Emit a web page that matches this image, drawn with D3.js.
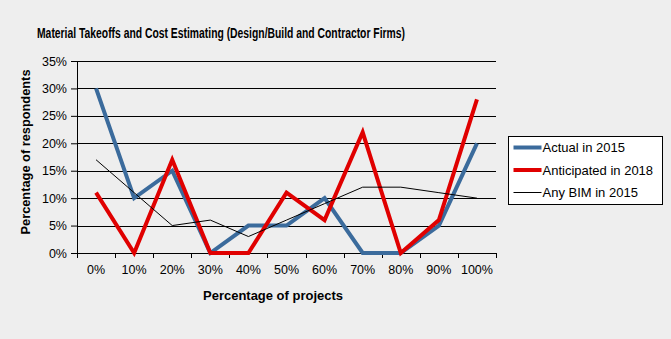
<!DOCTYPE html>
<html>
<head>
<meta charset="utf-8">
<script src="https://cdn.jsdelivr.net/npm/d3@7"></script>
<style>
  body { margin: 0; background: #eeeeee; }
  text { font-family: "Liberation Sans", Arial, sans-serif; fill: #000; }
</style>
</head>
<body>
<div id="chart"></div>
<script>
// categories on the x axis
var categories = ["0%", "10%", "20%", "30%", "40%", "50%", "60%", "70%", "80%", "90%", "100%"];

// series values (percent of respondents)
var actual2015 = [30, 10, 15, 0, 5, 5, 10, 0, 0, 5, 20];
var anticipated2018 = [11, 0, 17, 0, 0, 11, 6, 22, 0, 6, 28];
var anyBim2015 = [17, 11, 5, 6, 3, 6, 9, 12, 12, 11, 10];

var yTicks = [0, 5, 10, 15, 20, 25, 30, 35];

var series = [
  { name: "Actual in 2015", values: actual2015, color: "#3b6b9c", width: 4 },
  { name: "Anticipated in 2018", values: anticipated2018, color: "#e00000", width: 4 },
  { name: "Any BIM in 2015", values: anyBim2015, color: "#000000", width: 1 }
];

var svgWidth = 671, svgHeight = 339;
var margin = { top: 61, left: 77, right: 175, bottom: 86 };
var chartWidth = 496 - margin.left;
var chartHeight = 253 - margin.top;

var svg = d3.select("#chart")
  .append("svg")
  .attr("width", svgWidth)
  .attr("height", svgHeight);

svg.append("rect")
  .attr("width", svgWidth)
  .attr("height", svgHeight)
  .attr("fill", "#eeeeee");

// title
svg.append("text")
  .attr("x", 37)
  .attr("y", 38)
  .attr("font-size", 14.5)
  .attr("font-weight", "bold")
  .attr("textLength", 368)
  .attr("lengthAdjust", "spacingAndGlyphs")
  .text("Material Takeoffs  and Cost Estimating (Design/Build  and Contractor  Firms)");

var chartGroup = svg.append("g")
  .attr("transform", `translate(${margin.left}, ${margin.top})`);

var xScale = d3.scaleBand()
  .domain(categories)
  .range([0, chartWidth]);

var yScale = d3.scaleLinear()
  .domain([0, 35])
  .range([chartHeight, 0]);

// gridlines
chartGroup.selectAll(".grid")
  .data(yTicks.slice(1))
  .enter()
  .append("line")
  .attr("x1", 0)
  .attr("x2", chartWidth)
  .attr("y1", d => Math.round(yScale(d)) + 0.5)
  .attr("y2", d => Math.round(yScale(d)) + 0.5)
  .attr("stroke", "#000")
  .attr("stroke-width", 1);

// y axis
var yAxis = d3.axisLeft(yScale)
  .tickValues(yTicks)
  .tickFormat(d => d + "%")
  .tickSize(6)
  .tickSizeOuter(0)
  .tickPadding(4);

var yAxisG = chartGroup.append("g")
  .call(yAxis);
yAxisG.selectAll("text").attr("font-size", 12.5).style("font-family", "'Liberation Sans', Arial, sans-serif");
yAxisG.selectAll("line, path").attr("stroke", "#000");

// x axis with ticks between categories
var xBoundaries = d3.range(categories.length + 1).map(i => i * xScale.step());
var xAxisG = chartGroup.append("g")
  .attr("transform", `translate(0,${chartHeight})`);
xAxisG.append("line")
  .attr("x1", 0).attr("x2", chartWidth)
  .attr("y1", 0.5).attr("y2", 0.5)
  .attr("stroke", "#000");
xAxisG.selectAll(".xtick")
  .data(xBoundaries)
  .enter()
  .append("line")
  .attr("x1", d => Math.round(d) + 0.5)
  .attr("x2", d => Math.round(d) + 0.5)
  .attr("y1", 0)
  .attr("y2", 5)
  .attr("stroke", "#000");
xAxisG.selectAll(".xlabel")
  .data(categories)
  .enter()
  .append("text")
  .attr("x", d => xScale(d) + xScale.bandwidth() / 2)
  .attr("y", 21)
  .attr("text-anchor", "middle")
  .attr("font-size", 12.5)
  .text(d => d);

// lines
var line = d3.line()
  .x((d, i) => xScale(categories[i]) + xScale.bandwidth() / 2)
  .y(d => yScale(d));

chartGroup.selectAll(".series")
  .data(series)
  .enter()
  .append("path")
  .attr("d", d => line(d.values))
  .attr("fill", "none")
  .attr("stroke", d => d.color)
  .attr("stroke-width", d => d.width)
  .attr("stroke-linejoin", "miter");

// axis titles
svg.append("text")
  .attr("transform", "translate(30, 152) rotate(-90)")
  .attr("text-anchor", "middle")
  .attr("font-size", 13.5)
  .attr("font-weight", "bold")
  .attr("textLength", 165)
  .attr("lengthAdjust", "spacingAndGlyphs")
  .text("Percentage  of respondents");

svg.append("text")
  .attr("x", 273)
  .attr("y", 300)
  .attr("text-anchor", "middle")
  .attr("font-size", 13.5)
  .attr("font-weight", "bold")
  .attr("textLength", 140)
  .attr("lengthAdjust", "spacingAndGlyphs")
  .text("Percentage  of projects");

// legend
var legend = svg.append("g")
  .attr("transform", "translate(508.5, 136.5)");
legend.append("rect")
  .attr("width", 154)
  .attr("height", 68)
  .attr("fill", "#ffffff")
  .attr("stroke", "#000");
var legendItems = legend.selectAll(".item")
  .data(series)
  .enter()
  .append("g")
  .attr("transform", (d, i) => `translate(0, ${11 + i * 22.5})`);
legendItems.append("line")
  .attr("x1", 5).attr("x2", 33)
  .attr("y1", 0).attr("y2", 0)
  .attr("stroke", d => d.color)
  .attr("stroke-width", d => d.width);
legendItems.append("text")
  .attr("x", 34)
  .attr("y", 4.5)
  .attr("font-size", 13)
  .text(d => d.name);
</script>
</body>
</html>
